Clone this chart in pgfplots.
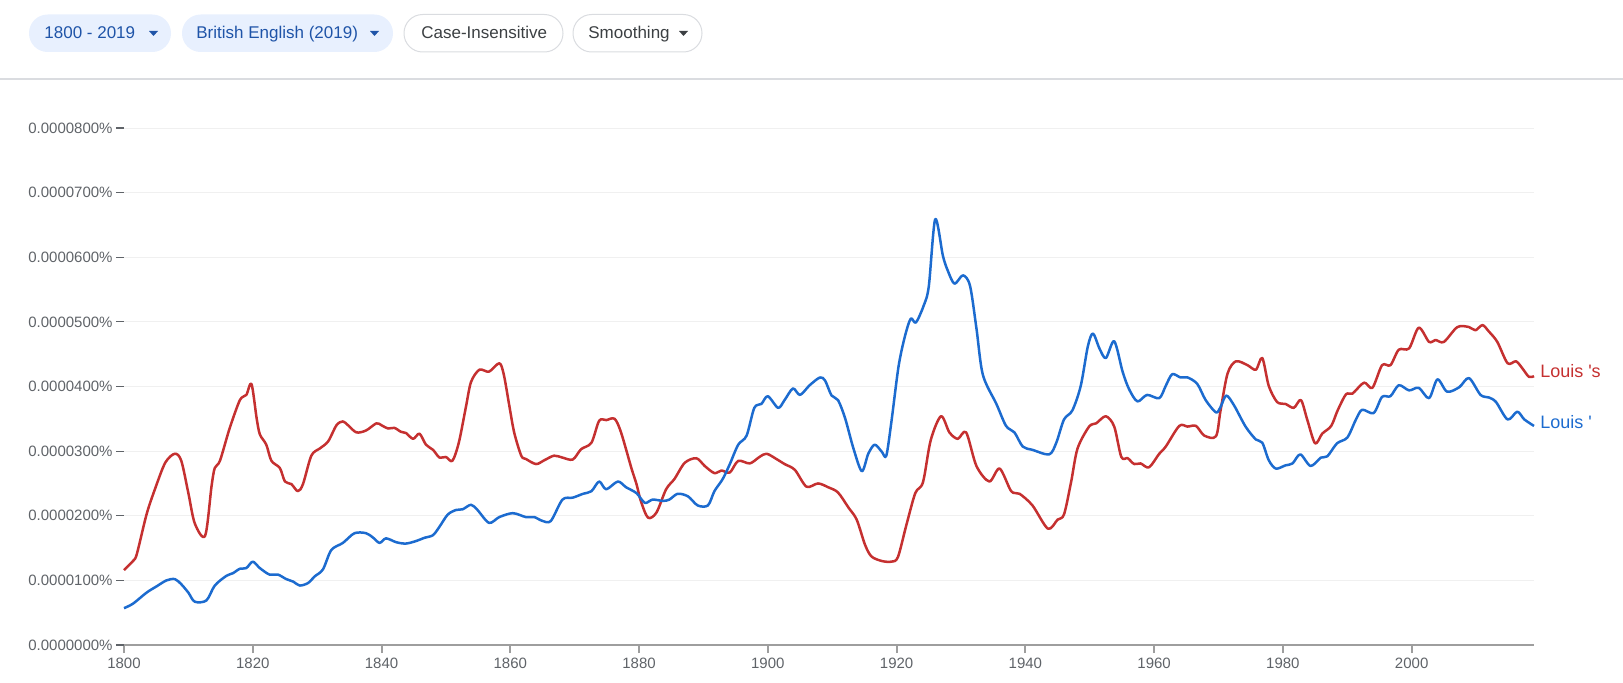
\documentclass[border=0pt]{standalone}
\usepackage{fontspec}
\setmainfont{Liberation Sans}
\usepackage{pgfplots}
\pgfplotsset{compat=1.18}

\definecolor{redline}{HTML}{C53030}
\definecolor{blueline}{HTML}{1C6BCF}
\definecolor{labelgray}{HTML}{5F6368}
\definecolor{axisgray}{HTML}{9E9E9E}
\definecolor{gridgray}{HTML}{F0F0F0}
\definecolor{chipbg}{HTML}{E8F0FE}
\definecolor{chiptext}{HTML}{1F54A8}
\definecolor{chipborder}{HTML}{DADCE0}
\definecolor{chiptextb}{HTML}{3C4043}

% values in units of 0.0000001 %
\pgfplotstableread{
year val
1800 116
1801.4 130
1802 141
1803.5 202
1804.8 241
1806.4 282
1807.9 296
1808.9 285
1810 235
1811 188
1812.6 169
1813.6 246
1814.1 274
1814.9 285
1816.4 335
1818 379
1819 387
1819.8 404
1820.6 351
1821.1 326
1822.1 310
1822.9 285
1824.2 274
1825 253
1826 249
1827 238
1827.8 249
1829.1 293
1830.4 304
1831.7 315
1833 340
1834 346
1834.8 340
1836.1 329
1837.6 332
1839.2 343
1840 340
1841 335
1842 336
1843 330
1843.8 328
1844.9 319
1845.9 327
1846.9 310
1848 302
1849 290
1850 291
1851 285
1852 313
1853.1 368
1853.9 407
1855.2 426
1856.7 423
1858.3 436
1859 418
1859.8 373
1860.6 329
1861.7 293
1862.4 288
1864 280
1865.3 286
1866.8 293
1868.1 290
1869.7 287
1871 303
1872.6 313
1873.8 347
1874.9 348
1876.2 350
1877.2 329
1878.8 274
1879.6 249
1880.3 222
1881.4 197
1882.7 205
1884.2 241
1885.5 257
1887.1 282
1888.9 289
1890.2 277
1891.7 266
1892.8 270
1894.1 267
1895.4 285
1897.2 281
1898.7 291
1899.8 296
1901.3 288
1902.6 280
1904.2 271
1906 245
1907.8 250
1909.4 244
1910.9 236
1912.5 213
1913.8 194
1915.1 155
1916.1 137
1917.7 130
1919.2 129
1920.2 136
1921.5 185
1922.9 235
1924.1 252
1925.3 317
1926.9 354
1928.2 329
1929.5 319
1930.8 329
1932.4 277
1934.4 253
1936 273
1937.8 238
1939.1 234
1941.1 216
1943.5 180
1945 194
1946 202
1947.1 252
1948.1 304
1949.9 338
1951 343
1952.5 354
1953.8 338
1954.9 291
1955.9 289
1956.9 280
1957.9 281
1959.2 275
1960.8 296
1961.8 307
1963.9 339
1965.2 338
1966.5 339
1967.8 324
1969.6 323
1970.3 362
1971.4 420
1972.7 439
1974.5 433
1975.8 426
1976.8 444
1977.8 401
1979.1 376
1980.4 373
1981.7 367
1982.8 379
1983.8 348
1985 312
1986.1 327
1987.5 339
1988.5 363
1989.8 388
1990.8 389
1992.6 406
1993.9 398
1995.4 433
1996.7 433
1998 457
1999.6 459
2001.1 491
2002.7 469
2003.7 472
2005 469
2007.1 492
2008.9 492
2009.9 487
2011 495
2012 485
2013.3 469
2014.9 436
2016.2 439
2017.2 428
2018.2 415
2019 416
}\louisS

\pgfplotstableread{
year val
1800 57
1801.4 64
1803.5 81
1805.1 91
1806.6 100
1807.9 102
1808.9 94
1810 81
1811 67
1812.8 69
1814.1 92
1815.9 107
1816.9 111
1818 118
1819 119
1820 129
1821.1 119
1822.6 109
1823.9 109
1825.2 102
1826.3 98
1827.3 92
1828.6 96
1829.6 106
1830.9 117
1832.2 147
1834 158
1835.8 173
1837.6 173
1838.7 166
1839.7 158
1840.7 165
1842.3 159
1843.8 157
1845.4 161
1846.7 166
1848 170
1849 183
1850.3 202
1851.6 209
1852.6 210
1853.9 217
1854.9 209
1856.7 189
1858.3 198
1860.4 204
1862.4 198
1863.7 198
1865 192
1866.3 192
1868.1 225
1869.7 228
1871.3 234
1872.6 238
1873.8 253
1874.9 241
1876.7 253
1878 244
1879.6 235
1880.9 220
1882.1 225
1883.7 223
1884.7 225
1886 234
1887.6 230
1889.1 216
1890.7 216
1891.7 238
1893 257
1894.1 280
1895.4 310
1896.7 324
1897.9 367
1899 373
1900 385
1901.6 367
1902.6 379
1903.9 397
1905 387
1906.5 402
1908.1 414
1908.9 409
1909.9 386
1910.9 379
1912 351
1913.3 304
1914.6 269
1915.6 296
1916.6 310
1917.7 299
1918.4 293
1919.2 346
1920.3 431
1921.3 478
1922.2 505
1923 499
1924.2 525
1925 555
1926 659
1927.2 602
1928 578
1929 559
1930.3 572
1931.4 556
1932.4 490
1933.4 418
1935.5 373
1937 339
1938.3 329
1939.6 307
1941.1 302
1943.7 295
1944.8 313
1946 349
1947.3 363
1948.6 401
1949.7 462
1950.5 482
1951.5 459
1952.5 444
1953.8 470
1955.1 423
1956.1 396
1957.4 377
1958.9 387
1960.8 382
1961.8 401
1962.8 419
1964.1 414
1965.2 414
1966.7 404
1968 379
1969.6 360
1970.3 368
1971.2 386
1972.4 371
1974.2 338
1975.8 318
1976.8 313
1977.8 286
1978.9 273
1980.4 278
1981.5 281
1982.7 295
1984.3 277
1985.9 290
1986.9 292
1988.4 312
1990 321
1991.3 348
1992.3 364
1994.1 359
1995.4 384
1996.7 385
1998 402
1999.6 394
2001.1 398
2002.7 382
2004 411
2005.5 392
2007.4 399
2008.9 413
2010.7 387
2012 383
2013.1 376
2014.9 349
2016.4 361
2017.5 349
2019 339
}\louisA

\begin{document}
\begin{tikzpicture}
\useasboundingbox (0,0) rectangle (811.5pt,341pt);

% toolbar, in screen pixels from the top left corner
\begin{scope}[shift={(0pt,341pt)}, x=0.5pt, y=-0.5pt,
  chip/.style={rounded corners=9.3pt, line width=0.5pt},
  lbl/.style={anchor=base west, inner sep=0pt, font=\fontsize{8.5pt}{10pt}\selectfont}]
  \fill[chipbg, chip] (29,14.5) rectangle (171,52);
  \node[lbl, text=chiptext] at (44,39) {1800 - 2019};
  \fill[chiptext] (149,31) -- (158,31) -- (153.5,36) -- cycle;

  \fill[chipbg, chip] (182,14.5) rectangle (393,52);
  \node[lbl, text=chiptext] at (196,39) {British English (2019)};
  \fill[chiptext] (370,31) -- (379,31) -- (374.5,36) -- cycle;

  \draw[chipborder, fill=white, chip] (404,14.5) rectangle (563,52);
  \node[lbl, text=chiptextb] at (421,39) {Case-Insensitive};

  \draw[chipborder, fill=white, chip] (573,14.5) rectangle (702,52);
  \node[lbl, text=chiptextb] at (588,39) {Smoothing};
  \fill[chiptextb] (679,31) -- (688,31) -- (683.5,36) -- cycle;

  \draw[chipborder, line width=0.7pt] (0,79) -- (1623,79);
\end{scope}

\begin{axis}[
  at={(62pt,18.5pt)}, anchor=south west,
  scale only axis, width=705pt, height=258.5pt,
  xmin=1800, xmax=2019, ymin=0, ymax=800,
  axis x line=bottom, axis y line=left,
  x axis line style={draw=axisgray, line width=1pt, -},
  y axis line style={draw=none, -},
  xtick={1800,1820,...,2000},
  ytick={0,100,...,800},
  yticklabels={0.0000000\%,0.0000100\%,0.0000200\%,0.0000300\%,0.0000400\%,0.0000500\%,0.0000600\%,0.0000700\%,0.0000800\%},
  tick align=outside,
  major tick length=4pt,
  xtick style={draw=axisgray, line width=1pt},
  ytick style={draw=labelgray, line width=0.6pt},
  ymajorgrids,
  grid style={draw=gridgray, line width=0.5pt},
  tick label style={font=\fontsize{7.5pt}{9pt}\selectfont, text=labelgray},
  yticklabel style={inner sep=0pt, xshift=-1.5pt},
  xticklabel style={inner sep=0pt, yshift=-2.5pt},
  /pgf/number format/1000 sep={},
  /pgf/number format/assume math mode=true,
  clip=false,
]
\addplot[redline, line width=1.25pt, smooth, line join=round] table[x=year, y=val] {\louisS}
  node[pos=1, anchor=west, inner sep=0pt, xshift=2.5pt, yshift=2.5pt,
       font=\fontsize{9pt}{10pt}\selectfont, text=redline] {Louis \textquotesingle s};
\addplot[blueline, line width=1.25pt, smooth, line join=round] table[x=year, y=val] {\louisA}
  node[pos=1, anchor=west, inner sep=0pt, xshift=2.5pt, yshift=2pt,
       font=\fontsize{9pt}{10pt}\selectfont, text=blueline] {Louis \textquotesingle};
\end{axis}
\end{tikzpicture}
\end{document}
